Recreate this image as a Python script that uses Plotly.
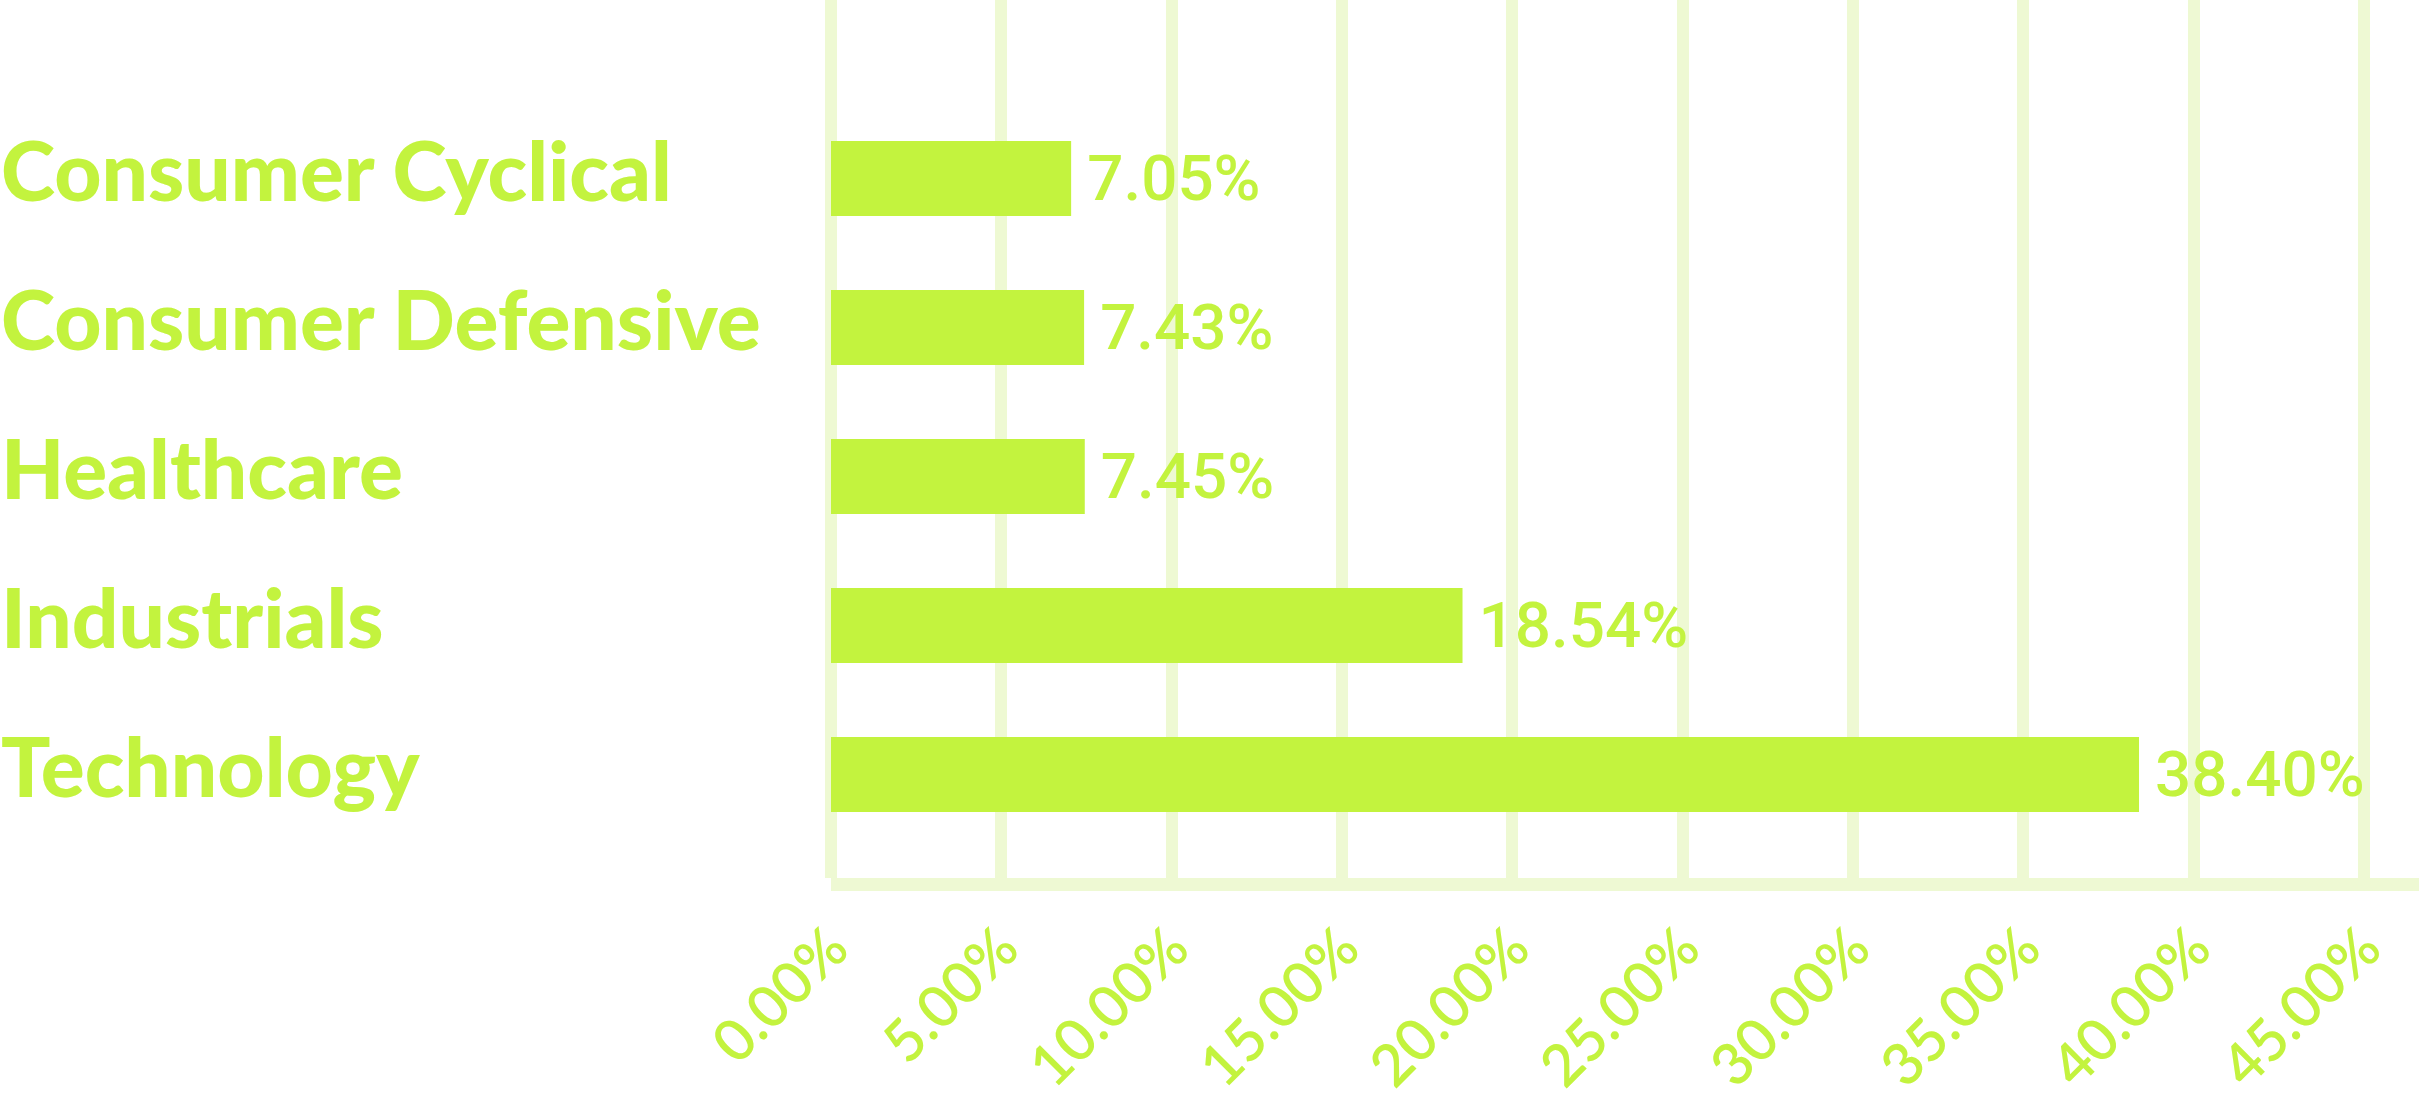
import plotly.graph_objects as go

# ---- data ----
categories = ["Consumer Cyclical", "Consumer Defensive", "Healthcare", "Industrials", "Technology"]
weights_pct = [7.05, 7.43, 7.45, 18.54, 38.40]
x_tick_values = [0, 5, 10, 15, 20, 25, 30, 35, 40, 45]
x_tick_labels = [f"{v:.2f}%" for v in x_tick_values]

# ---- style ----
W, H = 2419, 1103
LIME = "#C3F33E"
GRID = "#EEF9D3"
plot_left_px = 831

fig = go.Figure()
fig.add_trace(go.Bar(
    x=weights_pct,
    y=categories,
    orientation="h",
    marker=dict(color=LIME, line=dict(width=0)),
    texttemplate="\u2009%{x:.2f}%",
    textposition="outside",
    cliponaxis=False,
    textfont=dict(family="Roboto", size=80, color=LIME, weight=500),
    hoverinfo="skip",
))

fig.update_layout(
    width=W, height=H,
    margin=dict(l=0, r=0, t=0, b=225, autoexpand=False),
    paper_bgcolor="white",
    plot_bgcolor="white",
    bargap=0.497,
    showlegend=False,
    xaxis=dict(
        domain=[plot_left_px / W, 1],
        range=[0, 46.62],
        tickvals=x_tick_values,
        ticktext=x_tick_labels,
        tickangle=-45,
        tickfont=dict(family="Lato", size=58, color=LIME, weight=600),
        showgrid=True,
        gridcolor=GRID,
        gridwidth=12,
        zeroline=True,
        zerolinecolor=GRID,
        zerolinewidth=12,
        showline=True,
        linecolor=GRID,
        linewidth=13,
        ticks="",
        automargin=False,
    ),
    yaxis=dict(
        type="category",
        categoryorder="array",
        categoryarray=categories,
        range=[4.695, -1.198],
        anchor="free",
        position=0,
        side="right",
        showgrid=False,
        zeroline=False,
        showline=False,
        ticks="",
        automargin=False,
        ticklabelshift=6,
        tickfont=dict(family="Lato", size=82, color=LIME, weight=900),
    ),
)

fig.write_html(
    "out.html",
    config={"displayModeBar": False},
    post_script="document.body.style.margin='0';document.body.style.overflow='hidden';",
)
